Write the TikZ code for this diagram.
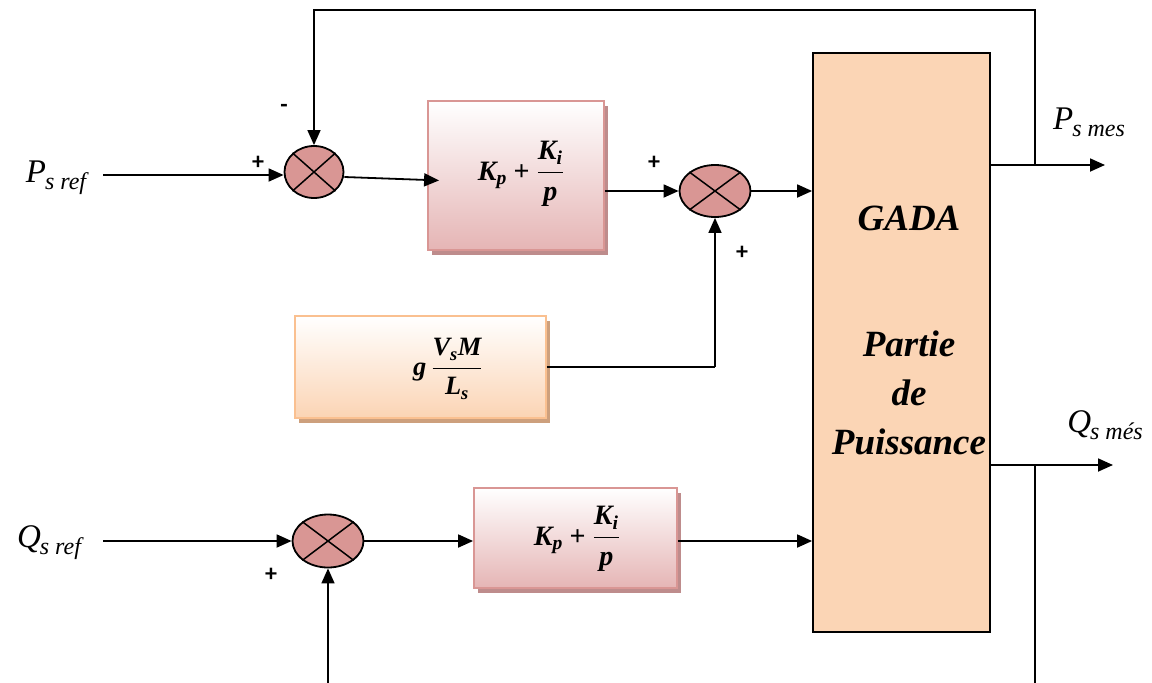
\documentclass[tikz,border=0pt]{standalone}
\usepackage{fontspec}
\usepackage{amsmath,graphicx}
\newfontfamily\timesf{Liberation Serif}
\newfontfamily\signf{Carlito}
\usetikzlibrary{shapes.geometric,arrows.meta,shadows}
\definecolor{sumfill}{RGB}{217,150,148}
\definecolor{piborder}{RGB}{217,150,148}
\definecolor{pibottom}{RGB}{229,181,181}
\definecolor{pishadow}{RGB}{190,140,140}
\definecolor{gborder}{RGB}{250,192,144}
\definecolor{gbottom}{RGB}{251,212,180}
\definecolor{gshadow}{RGB}{205,160,125}
\definecolor{gadafill}{RGB}{251,213,181}
\newcommand{\sig}[2]{{\timesf\itshape\fontsize{33}{35}\selectfont #1\kern-1pt\raisebox{-7pt}{\fontsize{24}{26}\selectfont #2}}}
\newcommand{\bi}[1]{\text{\timesf\bfseries\itshape #1}}
\newcommand{\bplus}{\mathbin{\text{\timesf\bfseries +}}}
\newcommand{\formula}[2]{\scalebox{#1}{\fontsize{23}{25}\selectfont #2}}
\begin{document}
\begin{tikzpicture}[x=1pt,y=-1pt,
  conn/.style={line width=1.8pt,-{Triangle[length=15pt,width=13pt]}},
  fbline/.style={line width=1.5pt},
  fbarrow/.style={line width=1.5pt,-{Triangle[length=15pt,width=13pt]}},
  sumnode/.style={ellipse,draw,line width=1.8pt,fill=sumfill,inner sep=0pt},
  piblock/.style={draw=piborder,line width=1.8pt,shading=axis,top color=white,bottom color=pibottom,
     drop shadow={shadow xshift=4pt,shadow yshift=-5pt,fill=pishadow,opacity=1},inner sep=0pt},
  gblock/.style={draw=gborder,line width=1.8pt,shading=axis,top color=white,bottom color=gbottom,
     drop shadow={shadow xshift=4pt,shadow yshift=-5pt,fill=gshadow,opacity=1},inner sep=0pt},
  formulanode/.style={inner sep=0pt},
  gadatext/.style={font=\timesf\bfseries\itshape\fontsize{37}{40}\selectfont},
  sign/.style={font=\signf\bfseries\fontsize{24}{24}\selectfont,inner sep=0pt},
  siglabel/.style={inner sep=0pt}
]
\useasboundingbox (0,0) rectangle (1152,683);

% blocks
\node[piblock,minimum width=176pt,minimum height=149pt] (pi1) at (516,175.5) {};
\node[formulanode] (pi1t) at (521,174) {\formula{1.22}{$\bi{K}_{\bi{p}}\bplus\dfrac{\bi{K}_{\bi{i}}}{\bi{p}}$}};
\node[piblock,minimum width=203pt,minimum height=100pt] (pi2) at (575.5,538) {};
\node[formulanode] (pi2t) at (577,539) {\formula{1.22}{$\bi{K}_{\bi{p}}\bplus\dfrac{\bi{K}_{\bi{i}}}{\bi{p}}$}};
\node[gblock,minimum width=251pt,minimum height=102pt] (gb) at (420.5,367) {};
\node[formulanode] (gbt) at (448,369) {\formula{1.15}{$\bi{g}\,\dfrac{\bi{V}_{\bi{s}}\bi{M}}{\bi{L}_{\bi{s}}}$}};
\node[draw,line width=1.8pt,fill=gadafill,minimum width=177pt,minimum height=579pt,inner sep=0pt] (gada) at (901.5,342.5) {};
\node[gadatext] (t1) at (909,218) {GADA};
\node[gadatext] (t2) at (909,344) {Partie};
\node[gadatext] (t3) at (909,393) {de};
\node[gadatext] (t4) at (909,442) {Puissance};

% summators
\node[sumnode,minimum width=59pt,minimum height=52pt] (s1) at (314,172) {};
\node[sumnode,minimum width=71pt,minimum height=52pt] (s2) at (715,191) {};
\node[sumnode,minimum width=71pt,minimum height=53pt] (s3) at (328,541) {};
\foreach \s in {s1,s2,s3}{
  \draw[line width=1.5pt] (\s.north west) -- (\s.south east);
  \draw[line width=1.5pt] (\s.north east) -- (\s.south west);
}

% labels
\node[siglabel] (psref) at (56,178) {\sig{P}{s ref}};
\node[siglabel] (qsref) at (49,543) {\sig{Q}{s ref}};
\node[siglabel] (psmes) at (1089,122) {\sig{P}{s mes}};
\node[siglabel] (qsmes) at (1105,425) {\sig{Q}{s més}};

\node[sign] (p1) at (258,163) {+};
\node[sign] (m1) at (284,108) {-};
\node[sign] (p2) at (654,163) {+};
\node[sign] (p3) at (742,253) {+};
\node[sign] (p4) at (271,575) {+};

% coordinates
\coordinate (psin) at (103,175);
\coordinate (qsin) at (103,541);
\coordinate (psout) at (1105,165);
\coordinate (qsout) at (1113,465);
\coordinate (pj) at (1035,165);
\coordinate (qj) at (1035,465);
\coordinate (topy) at (0,10);
\coordinate (boty) at (0,683);

% connectors
\draw[conn] (psin) -- (psin -| s1.west);
\draw[conn,shorten >=-12pt] (s1.east |- 0,177) -- (pi1.west |- 0,180);
\draw[conn] (s2.west -| pi1.east) -- (s2.west);
\draw[conn] (s2.east) -- (s2.east -| gada.west);
\draw[fbline] (gb.east) -- (gb.east -| s2.south);
\draw[conn,line width=1.5pt] (gb.east -| s2.south) -- (s2.south);
\draw[conn] (qsin) -- (s3.west);
\draw[conn] (s3.east) -- (s3.east -| pi2.west);
\draw[conn] (s3.east -| pi2.east) -- (s3.east -| gada.west);
\draw[fbarrow] (boty -| s3.south) -- (s3.south);
\draw[conn] (psout -| gada.east) -- (psout);
\draw[conn] (qsout -| gada.east) -- (qsout);
\draw[fbarrow] (pj) -- (pj |- topy) -- (topy -| s1.north) -- (s1.north);
\draw[fbline] (qj) -- (qj |- boty);
\end{tikzpicture}
\end{document}
